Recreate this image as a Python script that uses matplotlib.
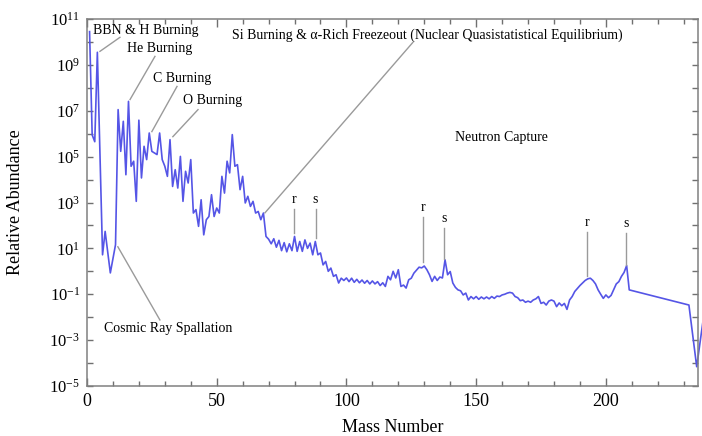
import numpy as np
import matplotlib
matplotlib.use("Agg")
from matplotlib import pyplot as plt

plt.rcParams["font.family"] = ["Liberation Serif", "DejaVu Serif"]
plt.rcParams["mathtext.fontset"] = "custom"
plt.rcParams["mathtext.rm"] = "Liberation Serif"
plt.rcParams["mathtext.it"] = "Liberation Serif:italic"

# mass number and log10 of relative abundance
mass = [1, 2, 3, 4, 6, 7, 9, 10, 11, 12, 13, 14, 15, 16, 17, 18, 19, 20,
        21, 22, 23, 24, 25, 26, 27, 28, 29, 30, 31, 32, 33, 34, 35, 36, 37, 38,
        39, 40, 41, 42, 43, 44, 45, 46, 47, 48, 49, 50, 51, 52, 53, 54, 55, 56,
        57, 58, 59, 60, 61, 62, 63, 64, 65, 66, 67, 68, 69, 70, 71, 72, 73, 74,
        75, 76, 77, 78, 79, 80, 81, 82, 83, 84, 85, 86, 87, 88, 89, 90, 91, 92,
        93, 94, 95, 96, 97, 98, 99, 100, 101, 102, 103, 104, 105, 106, 107, 108,
        109, 110, 111, 112, 113, 114, 115, 116, 117, 118, 119, 120, 121, 122,
        123, 124, 125, 126, 127, 128, 129, 130, 131, 132, 133, 134, 135, 136,
        137, 138, 139, 140, 141, 142, 143, 144, 145, 146, 147, 148, 149, 150,
        151, 152, 153, 154, 155, 156, 157, 158, 159, 160, 161, 162, 163, 164,
        165, 166, 167, 168, 169, 170, 171, 172, 173, 174, 175, 176, 177, 178,
        179, 180, 181, 182, 183, 184, 185, 186, 187, 188, 189, 190, 191, 192,
        193, 194, 195, 196, 197, 198, 199, 200, 201, 202, 203, 204, 205, 206,
        207, 208, 209, 232, 235, 238]
log_abund = [10.45, 5.95, 5.65, 9.55, 0.72, 1.74, -0.07, 0.55, 1.16, 7.05,
             5.23, 6.54, 4.21, 7.41, 4.58, 4.80, 3.05, 6.59,
             4.07, 5.45, 4.87, 6.03, 5.23, 5.16, 5.09, 6.03, 4.87, 4.58, 4.14,
             5.74, 3.70, 4.43, 3.63, 5.01, 3.05, 4.36,
             3.85, 4.87, 2.54, 2.69, 1.96, 3.12, 1.59, 2.25, 2.39, 3.34, 2.39,
             2.76, 2.54, 4.14, 3.41, 4.80, 4.29, 5.96,
             4.58, 4.65, 3.56, 4.14, 2.98, 3.27, 2.83, 3.05, 2.54, 2.61, 2.25,
             2.54, 1.52, 1.40, 1.20, 1.42, 1.05, 1.35,
             0.90, 1.25, 0.85, 1.20, 0.90, 1.52, 0.87, 1.30, 0.87, 1.37, 1.00,
             1.23, 0.72, 1.30, 0.72, 0.80, 0.28, 0.43,
             0.00, 0.14, -0.22, -0.15, -0.51, -0.30, -0.40, -0.29, -0.45, -0.30,
             -0.48, -0.35, -0.50, -0.38, -0.52, -0.40,
             -0.55, -0.42, -0.55, -0.45, -0.62, -0.50, -0.66, -0.22, -0.37, 0.00,
             -0.29, 0.07, -0.66, -0.60,
             -0.73, -0.37, -0.30, -0.08, 0.05, 0.18, 0.15, 0.23, 0.07, -0.15,
             -0.44, -0.22, -0.40, -0.25,
             -0.29, 0.50, -0.15, -0.01, -0.51, -0.70, -0.81, -0.85, -1.03, -0.95,
             -1.25, -1.10, -1.20, -1.10,
             -1.22, -1.12, -1.20, -1.12, -1.20, -1.10, -1.18, -1.08, -1.10, -1.03,
             -1.00, -0.95, -0.92, -0.95,
             -1.10, -1.15, -1.28, -1.25, -1.35, -1.30, -1.35, -1.25, -1.20, -1.10,
             -1.40, -1.35, -1.47, -1.30,
             -1.25, -1.30, -1.54, -1.38, -1.50, -1.40, -1.66, -1.25, -1.10, -0.88,
             -0.75, -0.62, -0.51, -0.40,
             -0.33, -0.30, -0.40, -0.55, -0.81, -1.00, -1.18, -1.03, -1.15, -1.05,
             -0.80, -0.55, -0.45, -0.22,
             -0.05, 0.25, -0.81, -1.47, -4.16, -1.70]

# process labels: (text, x, log y of text, line start, line end)
process_labels = ["BBN & H Burning", "He Burning", "C Burning", "O Burning",
                  "Si Burning & α-Rich Freezeout (Nuclear Quasistatistical Equilibrium)",
                  "Cosmic Ray Spallation"]
process_text_pos = [(2.3, 10.5), (15.4, 9.72), (25.4, 8.41), (37.0, 7.45),
                    (55.9, 10.28), (6.6, -2.51)]
process_lines = [((5.0, 9.59), (12.7, 10.2)), ((16.6, 7.49), (26.2, 9.37)),
                 ((25.0, 6.09), (34.7, 8.06)), ((33.1, 5.87), (42.8, 7.05)),
                 ((68.6, 2.55), (125.6, 9.98)), ((11.9, 1.07), (28.1, -2.12))]

# r / s process peaks: label, mass, log of line bottom, log of line top
rs_labels = ["r", "s", "r", "s", "r", "s"]
rs_mass = [79.8, 88.1, 129.6, 137.7, 192.6, 207.6]
rs_bottom = [1.68, 1.46, 0.41, 0.55, -0.20, 0.28]
rs_top = [2.73, 2.73, 2.38, 1.90, 1.72, 1.68]

fig = plt.figure(figsize=(7.02, 4.36), dpi=100)
ax = fig.add_axes([0.1239, 0.1147, 0.8704, 0.8417])

ax.plot(mass, 10 ** np.array(log_abund), color="#5555e6", lw=1.2, clip_on=False)
ax.set_yscale("log")
ax.set_xlim(0, 235.5)
ax.set_ylim(1e-5, 1e11)

line_col = "#9a9a9a"
for label, (tx, ty), (p0, p1) in zip(process_labels, process_text_pos, process_lines):
    ax.text(tx, 10 ** ty, label, fontsize=10, ha="left", va="center")
    ax.plot([p0[0], p1[0]], [10 ** p0[1], 10 ** p1[1]], color=line_col, lw=1.0)

ax.text(141.8, 10 ** 5.83, "Neutron Capture", fontsize=10, ha="left", va="center")

for lab, m, lo, hi in zip(rs_labels, rs_mass, rs_bottom, rs_top):
    ax.plot([m, m], [10 ** lo, 10 ** hi], color=line_col, lw=1.0)
    ax.text(m, 10 ** (hi + 0.12), lab, fontsize=10, ha="center", va="bottom")

# ticks
ax.set_xticks([0, 50, 100, 150, 200])
ax.set_xticks(np.arange(0, 236, 10), minor=True)
exps = list(range(-5, 12))
ax.set_yticks([10.0 ** k for k in exps])
ax.set_yticklabels([f"$10^{{{k}}}$" if k % 2 else "" for k in exps])
ax.yaxis.set_minor_locator(matplotlib.ticker.NullLocator())
ax.tick_params(axis="both", which="both", direction="in", top=True, right=True,
               color="#707070", width=1.0)
ax.tick_params(axis="x", which="major", length=6, labelsize=13, pad=5)
ax.tick_params(axis="x", which="minor", length=3.5)
ax.tick_params(axis="y", which="major", length=4.5, labelsize=12, pad=5)

for sp in ax.spines.values():
    sp.set_color("#808080")
    sp.set_linewidth(1.1)

ax.set_xlabel("Mass Number", fontsize=13)
ax.set_ylabel("Relative Abundance", fontsize=13)
ax.xaxis.set_label_coords(0.5, -0.09)
ax.yaxis.set_label_coords(-0.103, 0.5)

fig.savefig("out.png", dpi=100)
